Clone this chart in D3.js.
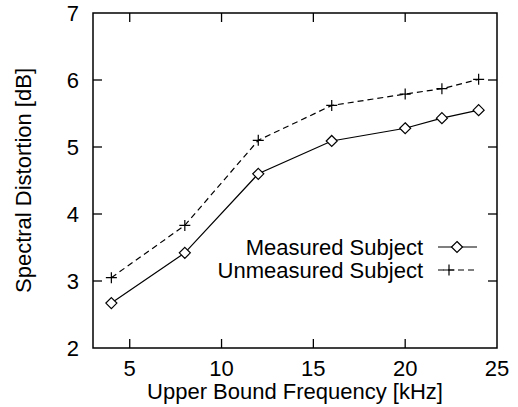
<!DOCTYPE html>
<html>
<head>
<meta charset="utf-8">
<script type="text/javascript" src="https://cdnjs.cloudflare.com/ajax/libs/d3/7.8.5/d3.min.js"></script>
<style>
	body { margin: 0; background: #fff; }
	text { font-family: "Liberation Sans", Arial, sans-serif; fill: #000; }
</style>
</head>
<body>
<div id="chart"></div>
<script type="text/javascript">
// data
var freqs = [4, 8, 12, 16, 20, 22, 24];
var measured = [2.67, 3.42, 4.60, 5.09, 5.28, 5.43, 5.55];
var unmeasured = [3.05, 3.83, 5.10, 5.62, 5.79, 5.87, 6.01];
var xTicks = [5, 10, 15, 20, 25];
var yTicks = [2, 3, 4, 5, 6, 7];
var seriesNames = ["Measured Subject", "Unmeasured Subject"];

var width = 518, height = 407;
var margin = {top: 13, right: 21, bottom: 59, left: 93};

var svg = d3.select("#chart").append("svg")
	.attr("width", width)
	.attr("height", height);

var x = d3.scaleLinear().domain([3, 25]).range([margin.left, width - margin.right]);
var y = d3.scaleLinear().domain([2, 7]).range([height - margin.bottom, margin.top]);

var fontSize = 22;
var tickLen = 9;

// inner ticks on all four sides (skip those on the frame corners)
var g = svg.append("g").attr("stroke", "#000").attr("stroke-width", 1.3);
xTicks.filter(function(t) { return t < 25; }).forEach(function(t) {
	g.append("line").attr("x1", x(t)).attr("x2", x(t)).attr("y1", y(2)).attr("y2", y(2) - tickLen);
	g.append("line").attr("x1", x(t)).attr("x2", x(t)).attr("y1", y(7)).attr("y2", y(7) + tickLen);
});
yTicks.filter(function(t) { return t > 2 && t < 7; }).forEach(function(t) {
	g.append("line").attr("x1", x(3)).attr("x2", x(3) + tickLen).attr("y1", y(t)).attr("y2", y(t));
	g.append("line").attr("x1", x(25)).attr("x2", x(25) - tickLen).attr("y1", y(t)).attr("y2", y(t));
});

// frame
svg.append("rect")
	.attr("x", x(3)).attr("y", y(7))
	.attr("width", x(25) - x(3)).attr("height", y(2) - y(7))
	.attr("fill", "none").attr("stroke", "#000").attr("stroke-width", 1.5);

// tick labels
svg.selectAll(".xl").data(xTicks).enter().append("text")
	.attr("x", function(d) { return x(d); })
	.attr("y", y(2) + 28)
	.attr("text-anchor", "middle")
	.attr("font-size", fontSize)
	.text(function(d) { return d; });

svg.selectAll(".yl").data(yTicks).enter().append("text")
	.attr("x", x(3) - 14)
	.attr("y", function(d) { return y(d) + 8; })
	.attr("text-anchor", "end")
	.attr("font-size", fontSize)
	.text(function(d) { return d; });

// axis titles
svg.append("text")
	.attr("x", (x(3) + x(25)) / 2)
	.attr("y", 399)
	.attr("text-anchor", "middle")
	.attr("font-size", fontSize)
	.text("Upper Bound Frequency [kHz]");

svg.append("text")
	.attr("transform", "translate(31," + (y(2) + y(7)) / 2 + ") rotate(-90)")
	.attr("text-anchor", "middle")
	.attr("font-size", fontSize)
	.text("Spectral Distortion [dB]");

// lines
var line = d3.line()
	.x(function(d) { return x(d[0]); })
	.y(function(d) { return y(d[1]); });

svg.append("path")
	.datum(d3.zip(freqs, measured))
	.attr("d", line)
	.attr("fill", "none").attr("stroke", "#000").attr("stroke-width", 1.2);

svg.append("path")
	.datum(d3.zip(freqs, unmeasured))
	.attr("d", line)
	.attr("fill", "none").attr("stroke", "#000").attr("stroke-width", 1.2)
	.attr("stroke-dasharray", "6,4");

function diamond(sel, cx, cy) {
	var r = 5.5;
	sel.append("path")
		.attr("d", "M" + cx + "," + (cy - r) + "L" + (cx + r) + "," + cy + "L" + cx + "," + (cy + r) + "L" + (cx - r) + "," + cy + "Z")
		.attr("fill", "#fff").attr("stroke", "#000").attr("stroke-width", 1.2);
}
function plus(sel, cx, cy) {
	var r = 5.5;
	sel.append("path")
		.attr("d", "M" + (cx - r) + "," + cy + "H" + (cx + r) + "M" + cx + "," + (cy - r) + "V" + (cy + r))
		.attr("fill", "none").attr("stroke", "#000").attr("stroke-width", 1.2);
}

freqs.forEach(function(f, i) {
	diamond(svg, x(f), y(measured[i]));
	plus(svg, x(f), y(unmeasured[i]));
});

// legend
var legX = 423, legY = [247, 270];
seriesNames.forEach(function(name, i) {
	svg.append("text")
		.attr("x", legX)
		.attr("y", legY[i] + 8)
		.attr("text-anchor", "end")
		.attr("font-size", fontSize)
		.text(name);
	var ln = svg.append("line")
		.attr("x1", 438).attr("x2", 477)
		.attr("y1", legY[i]).attr("y2", legY[i])
		.attr("stroke", "#000").attr("stroke-width", 1.2);
	if (i == 1) ln.attr("stroke-dasharray", "6,4");
});
diamond(svg, 457, legY[0]);
plus(svg, 449, legY[1]);
</script>
</body>
</html>
